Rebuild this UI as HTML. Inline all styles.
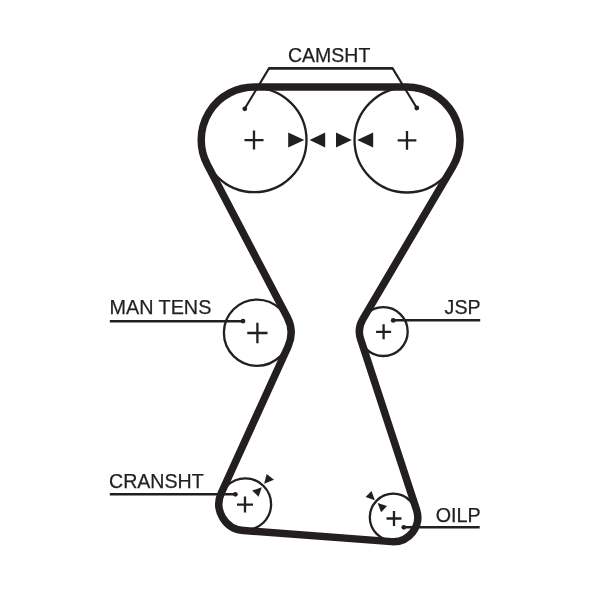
<!DOCTYPE html>
<html><head><meta charset="utf-8"><title>Timing belt diagram</title>
<style>
html,body{margin:0;padding:0;background:#fff;}
body{width:600px;height:589px;overflow:hidden;}
svg{display:block;will-change:transform;}
text{font-family:"Liberation Sans",Arial,sans-serif;font-size:19.5px;fill:#231f20;}
</style></head><body>
<svg width="600" height="589" viewBox="0 0 600 589">
<g fill="none" stroke="#231f20" stroke-width="2.3">
<circle cx="254.3" cy="140" r="52.2"/>
<circle cx="407" cy="140" r="52.5"/>
<circle cx="257" cy="332.7" r="33.1"/>
<circle cx="383.3" cy="331.6" r="24.4"/>
<circle cx="245.3" cy="504.2" r="25.8"/>
<circle cx="393.3" cy="517.2" r="23.5"/>
</g>
<path d="M254.20 87.00 L407.00 87.00 A53.00 53.00 0 0 1 452.65 166.93 L362.74 319.36 A24.10 24.10 0 0 0 360.60 339.10 L416.49 509.70 A24.40 24.40 0 0 1 391.47 541.63 L243.51 530.53 A26.60 26.60 0 0 1 221.30 492.97 L287.96 346.72 A33.80 33.80 0 0 0 287.14 317.01 L207.26 164.60 A53.00 53.00 0 0 1 254.20 87.00 Z" fill="none" stroke="#231f20" stroke-width="7.5" stroke-linejoin="round"/>
<g fill="none" stroke="#231f20" stroke-width="2.6" stroke-linejoin="miter">
<path d="M268.3 68.4H393.3"/><path d="M244.8 108.5L269 68.4M392.6 68.4L416.8 108" stroke-width="2.1"/>
<path d="M109.8 321.3H243"/>
<path d="M393.3 320.3H480.2"/>
<path d="M109.8 494.2H235.5"/>
<path d="M403.8 527.2H479.7"/>
</g>
<g fill="#231f20">
<circle cx="244.8" cy="108.8" r="2.4"/>
<circle cx="416.8" cy="108" r="2.4"/>
<circle cx="243" cy="321.1" r="2.4"/>
<circle cx="393.2" cy="320.4" r="2.4"/>
<circle cx="235.4" cy="494.3" r="2.4"/>
<circle cx="403.8" cy="527.3" r="2.4"/>
</g>
<path d="M244.50 140.10H263.50M254.00 130.60V149.60" stroke="#231f20" stroke-width="2.3" fill="none"/>
<path d="M397.65 140.40H416.35M407.00 131.05V149.75" stroke="#231f20" stroke-width="2.3" fill="none"/>
<path d="M247.25 333.00H267.55M257.40 322.85V343.15" stroke="#231f20" stroke-width="2.3" fill="none"/>
<path d="M376.10 331.80H391.10M383.60 324.30V339.30" stroke="#231f20" stroke-width="2.3" fill="none"/>
<path d="M237.00 504.60H253.00M245.00 496.60V512.60" stroke="#231f20" stroke-width="2.3" fill="none"/>
<path d="M386.55 518.50H401.45M394.00 511.05V525.95" stroke="#231f20" stroke-width="2.3" fill="none"/>
<polygon points="304.30,140.00 288.20,132.40 288.20,147.60" fill="#231f20"/>
<polygon points="309.60,140.00 325.20,132.40 325.20,147.60" fill="#231f20"/>
<polygon points="351.80,140.00 336.00,132.40 336.00,147.60" fill="#231f20"/>
<polygon points="357.20,140.00 373.20,132.40 373.20,147.60" fill="#231f20"/>
<polygon points="264.10,483.70 266.70,474.00 274.00,479.70" fill="#231f20"/>
<polygon points="261.80,487.20 252.20,490.60 258.60,496.70" fill="#231f20"/>
<polygon points="374.80,500.30 371.50,490.90 365.60,497.00" fill="#231f20"/>
<polygon points="377.60,503.10 387.00,506.10 381.10,512.30" fill="#231f20"/>
<g stroke="#231f20" stroke-width="0.25">
<text x="288" y="61.8" style="font-size:19.5px">CAMSHT</text>
<text x="109.5" y="314.2" style="font-size:19.8px">MAN TENS</text>
<text x="444.6" y="314.3" style="font-size:19.6px">JSP</text>
<text x="109" y="488.3" style="font-size:19.6px">CRANSHT</text>
<text x="435.8" y="521.8" style="font-size:19.7px">OILP</text>
</g>
</svg>
</body></html>
